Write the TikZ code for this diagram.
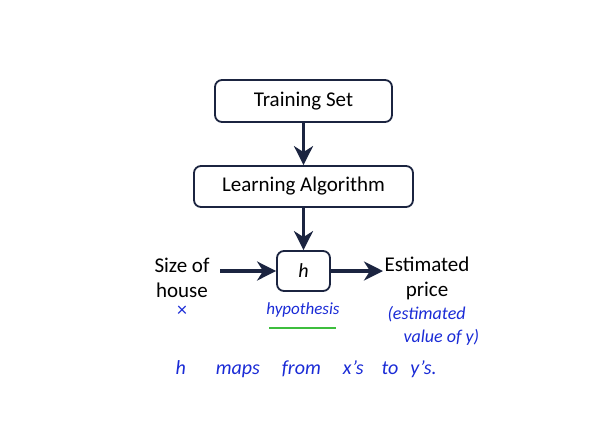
\documentclass[tikz,border=0pt]{standalone}
\usepackage{fontspec}
\setmainfont{Carlito}
\usetikzlibrary{arrows.meta}
\definecolor{navy}{HTML}{1B2440}
\definecolor{pen}{HTML}{1A2BD6}
\definecolor{hl}{HTML}{3DBE3D}
\tikzset{
  box/.style={draw=navy, line width=1.8pt, rounded corners=7pt, fill=white, inner sep=0pt, font=\fontsize{21}{24}\selectfont},
  flow/.style={draw=navy, line width=3.4pt, -{Stealth[length=19pt,width=19pt,inset=6pt]}},
  lbl/.style={font=\fontsize{21}{25}\selectfont, align=center},
  hand/.style={text=pen, font=\fontsize{17}{22}\selectfont\itshape, align=left}
}
\begin{document}
\begin{tikzpicture}[x=1pt,y=-1pt]
\useasboundingbox (0,0) rectangle (612,440);
\node[box, minimum width=177pt, minimum height=42pt] (ts) at (303.5,101) {Training Set};
\node[box, minimum width=219pt, minimum height=41pt] (la) at (303.5,186.5) {Learning Algorithm};
\node[box, minimum width=53pt, minimum height=40pt, font=\fontsize{20}{22}\selectfont\itshape] (h) at (303.5,271) {h};
\node[lbl] (in) at (182,278) {Size of\\house};
\node[lbl] (out) at (427,278) {Estimated\\price};
\coordinate (inA) at (220,271);
\coordinate (outB) at (383,271);
\draw[flow] (ts.south) -- (la.north);
\draw[flow] (la.south) -- (h.north);
\draw[flow] (inA) -- (h.west);
\draw[flow] (h.east) -- (outB);
\node[hand, font=\fontsize{20}{22}\selectfont] (x) at (182,311) {×};
\node[hand] (hyp) at (303,310) {hypothesis};
\coordinate (u1) at (269,328);
\coordinate (u2) at (336,328);
\draw[hl, line width=1.5pt] (u1) -- (u2);
\node[hand, anchor=north west, font=\fontsize{18}{23}\selectfont\itshape] (est) at (384,303) {(estimated\\\hspace*{16pt}value of y)};
\node[hand, anchor=west, font=\fontsize{20}{22}\selectfont\itshape] (maps) at (172,369) {h\hspace{30pt}maps\hspace{22pt}from\hspace{22pt}x's\hspace{18pt}to\hspace{12pt}y's.};
\end{tikzpicture}
\end{document}
